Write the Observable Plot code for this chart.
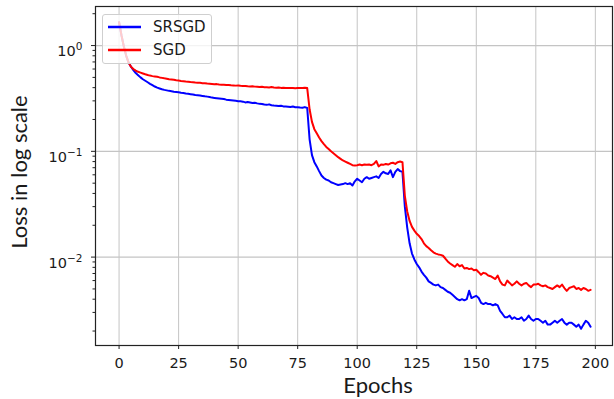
<!DOCTYPE html>
<html>
<head>
<meta charset="utf-8">
<script src="https://cdn.jsdelivr.net/npm/d3@7"></script>
<script src="https://cdn.jsdelivr.net/npm/@observablehq/plot@0.6"></script>
<style>
  html, body { margin: 0; padding: 0; background: white; }
  #wrap { position: relative; width: 614px; height: 399px; }
  #legend { position: absolute; left: 102px; top: 14px; width: 108px; height: 48px;
    border: 1px solid #cfcfcf; border-radius: 3px; background: rgba(255,255,255,0.8); }
</style>
</head>
<body>
<div id="wrap"></div>
<script>
const seriesNames = ["SRSGD", "SGD"];
const seriesColors = ["#0000ff", "#ff0000"];
const xTicks = [0, 25, 50, 75, 100, 125, 150, 175, 200];
const yTicks = [1, 0.1, 0.01];
const yTickBase = ["10", "10", "10"];
const yTickExp = ["0", "\u22121", "\u22122"];
const xLabel = "Epochs";
const yLabel = "Loss in log scale";

const srsgd = [
  1.66, 1.25, 0.98, 0.80, 0.69, 0.63, 0.585, 0.55, 0.525, 0.50,
  0.48, 0.465, 0.45, 0.435, 0.422, 0.41, 0.40, 0.393, 0.386, 0.381,
  0.377, 0.373, 0.370, 0.366, 0.364, 0.362, 0.358, 0.356, 0.352, 0.350,
  0.347, 0.344, 0.341, 0.339, 0.337, 0.334, 0.331, 0.329, 0.326, 0.322,
  0.320, 0.318, 0.316, 0.314, 0.312, 0.308, 0.306, 0.304, 0.302, 0.300,
  0.298, 0.297, 0.295, 0.290, 0.292, 0.289, 0.286, 0.288, 0.284, 0.281,
  0.280, 0.277, 0.275, 0.278, 0.273, 0.271, 0.270, 0.268, 0.270, 0.266,
  0.265, 0.264, 0.262, 0.265, 0.261, 0.261, 0.259, 0.258, 0.262, 0.257,
  0.13, 0.092, 0.079, 0.072, 0.065, 0.059, 0.056, 0.054, 0.053, 0.051,
  0.050, 0.049, 0.048, 0.0485, 0.049, 0.050, 0.049, 0.050, 0.0475, 0.052,
  0.055, 0.053, 0.051, 0.055, 0.057, 0.055, 0.056, 0.057, 0.058, 0.056,
  0.061, 0.064, 0.062, 0.061, 0.066, 0.057, 0.064, 0.068, 0.065, 0.064,
  0.030, 0.019, 0.0135, 0.0108, 0.0095, 0.0086, 0.0080, 0.0073, 0.0068, 0.0064,
  0.0059, 0.0057, 0.0055, 0.0054, 0.0055, 0.0052, 0.0051, 0.0049, 0.0047, 0.0046,
  0.0044, 0.0042, 0.0040, 0.0039, 0.0040, 0.0039, 0.0040, 0.0048, 0.0041, 0.0042,
  0.0043, 0.0041, 0.0037, 0.0036, 0.0037, 0.0036, 0.0036, 0.0035, 0.0036, 0.0035,
  0.0031, 0.0029, 0.0027, 0.0027, 0.0028, 0.0026, 0.0027, 0.0026, 0.0026, 0.0027,
  0.0025, 0.0026, 0.0028, 0.0026, 0.0025, 0.0026, 0.0026, 0.0025, 0.0024, 0.0025,
  0.0023, 0.0023, 0.0024, 0.0025, 0.0024, 0.0025, 0.0026, 0.0024, 0.0023, 0.0024,
  0.0024, 0.0023, 0.0022, 0.0023, 0.0021, 0.0023, 0.0025, 0.0024, 0.0022
];

const sgd = [
  1.66, 1.25, 0.98, 0.80, 0.69, 0.63, 0.60, 0.58, 0.565, 0.555,
  0.545, 0.535, 0.527, 0.52, 0.514, 0.510, 0.506, 0.500, 0.495, 0.490,
  0.486, 0.481, 0.478, 0.474, 0.470, 0.467, 0.463, 0.460, 0.457, 0.455,
  0.452, 0.450, 0.447, 0.445, 0.444, 0.441, 0.440, 0.437, 0.435, 0.433,
  0.431, 0.432, 0.428, 0.426, 0.425, 0.423, 0.424, 0.421, 0.420, 0.418,
  0.419, 0.416, 0.414, 0.415, 0.412, 0.410, 0.412, 0.409, 0.408, 0.405,
  0.407, 0.404, 0.404, 0.402, 0.405, 0.401, 0.400, 0.402, 0.398, 0.399,
  0.397, 0.398, 0.396, 0.397, 0.395, 0.397, 0.398, 0.396, 0.399, 0.396,
  0.25, 0.19, 0.162, 0.148, 0.135, 0.125, 0.117, 0.110, 0.105, 0.100,
  0.096, 0.092, 0.088, 0.085, 0.082, 0.080, 0.078, 0.076, 0.074, 0.0735,
  0.074, 0.075, 0.074, 0.075, 0.0745, 0.075, 0.074, 0.076, 0.081, 0.072,
  0.075, 0.0745, 0.076, 0.075, 0.077, 0.078, 0.076, 0.079, 0.080, 0.079,
  0.038, 0.027, 0.022, 0.0193, 0.0178, 0.0166, 0.0158, 0.0148, 0.0135, 0.0127,
  0.0122, 0.0116, 0.0111, 0.0108, 0.0106, 0.0105, 0.0103, 0.0097, 0.0091, 0.0087,
  0.0084, 0.0081, 0.0086, 0.0082, 0.0084, 0.0078, 0.0079, 0.0077, 0.0078, 0.0075,
  0.0076, 0.0072, 0.0068, 0.0071, 0.0070, 0.0067, 0.0066, 0.0064, 0.0062, 0.0067,
  0.0059, 0.0055, 0.0054, 0.0060, 0.0057, 0.0054, 0.0056, 0.0059, 0.0056, 0.0054,
  0.0056, 0.0057, 0.0054, 0.0052, 0.0055, 0.0055, 0.0056, 0.0054, 0.0053, 0.0054,
  0.0052, 0.0051, 0.0050, 0.0052, 0.0054, 0.0052, 0.0055, 0.0051, 0.0048, 0.0051,
  0.0052, 0.0053, 0.0050, 0.0051, 0.0049, 0.0051, 0.0050, 0.0048, 0.0049
];

const epochs = d3.range(srsgd.length);
const seriesValues = [srsgd, sgd];

const data = seriesNames.flatMap((name, s) =>
  epochs.map((e, i) => ({ epoch: e, loss: seriesValues[s][i], series: name })));

const minorTicks = [];
for (let k = -3; k <= 0; k++) for (let m = 2; m <= 9; m++) minorTicks.push(m * Math.pow(10, k));

const axisColor = "#222";
const gridColor = "#c4c4c4";
const fallback = yTicks.map((d, i) => yTickBase[i] + "^" + yTickExp[i]);

const chart = Plot.plot({
  width: 614,
  height: 399,
  marginLeft: 95,
  marginRight: 2,
  marginTop: 6,
  marginBottom: 54,
  style: { fontFamily: "'DejaVu Sans', sans-serif", fontSize: "14.5px", background: "white", color: "#1a1a1a" },
  x: { domain: [-9.9, 207.2], label: null },
  y: { type: "log", domain: [0.00146, 2.34], label: null },
  color: { domain: seriesNames, range: seriesColors },
  marks: [
    Plot.gridX(xTicks, { stroke: gridColor, strokeOpacity: 1, strokeWidth: 1 }),
    Plot.gridY(yTicks, { stroke: gridColor, strokeOpacity: 1, strokeWidth: 1.2 }),
    Plot.axisX(xTicks, { tickSize: 4, tickPadding: 8, label: null, stroke: axisColor, fontSize: 14.5 }),
    Plot.axisY(yTicks, { tickSize: 4, tickPadding: 9, label: null, stroke: axisColor, fontSize: 14.5,
      tickFormat: d => fallback[yTicks.indexOf(d)] }),
    Plot.axisY(minorTicks, { tickSize: 2.5, tickFormat: () => "", label: null, stroke: axisColor }),
    Plot.line(data, { x: "epoch", y: "loss", z: "series", stroke: "series", strokeWidth: 2 }),
    Plot.frame({ stroke: axisColor, strokeWidth: 1.2 })
  ]
});

const ns = "http://www.w3.org/2000/svg";

// superscript exponents on the y tick labels
chart.querySelectorAll("text").forEach(t => {
  const idx = fallback.indexOf(t.textContent);
  if (idx < 0) return;
  t.textContent = "";
  t.setAttribute("dy", "0.42em");
  const b = document.createElementNS(ns, "tspan");
  b.textContent = yTickBase[idx];
  t.appendChild(b);
  const e = document.createElementNS(ns, "tspan");
  e.setAttribute("font-size", "10.5");
  e.setAttribute("dy", "-6");
  e.textContent = yTickExp[idx];
  t.appendChild(e);
});

// axis titles
const xt = document.createElementNS(ns, "text");
xt.setAttribute("x", 378);
xt.setAttribute("y", 393);
xt.setAttribute("text-anchor", "middle");
xt.setAttribute("font-family", "Lato, 'Open Sans', sans-serif");
xt.setAttribute("font-size", 22);
xt.setAttribute("fill", "#1a1a1a");
xt.textContent = xLabel;
chart.appendChild(xt);

const yt = document.createElementNS(ns, "text");
yt.setAttribute("transform", "translate(27,172) rotate(-90)");
yt.setAttribute("text-anchor", "middle");
yt.setAttribute("font-family", "Lato, 'Open Sans', sans-serif");
yt.setAttribute("font-size", 22);
yt.setAttribute("fill", "#1a1a1a");
yt.textContent = yLabel;
chart.appendChild(yt);

const wrap = document.getElementById("wrap");
wrap.appendChild(chart);

// legend
const legend = document.createElement("div");
legend.id = "legend";
const lsvg = document.createElementNS(ns, "svg");
lsvg.setAttribute("width", 108);
lsvg.setAttribute("height", 48);
seriesNames.forEach((name, i) => {
  const cy = 12 + i * 23;
  const ln = document.createElementNS(ns, "line");
  ln.setAttribute("x1", 5); ln.setAttribute("x2", 38);
  ln.setAttribute("y1", cy); ln.setAttribute("y2", cy);
  ln.setAttribute("stroke", seriesColors[i]); ln.setAttribute("stroke-width", 2.5);
  lsvg.appendChild(ln);
  const tx = document.createElementNS(ns, "text");
  tx.setAttribute("x", 50); tx.setAttribute("y", cy);
  tx.setAttribute("dy", "0.36em");
  tx.setAttribute("font-family", "'DejaVu Sans', sans-serif");
  tx.setAttribute("font-size", 15);
  tx.setAttribute("fill", "#1a1a1a");
  tx.textContent = name;
  lsvg.appendChild(tx);
});
legend.appendChild(lsvg);
wrap.appendChild(legend);
</script>
</body>
</html>
